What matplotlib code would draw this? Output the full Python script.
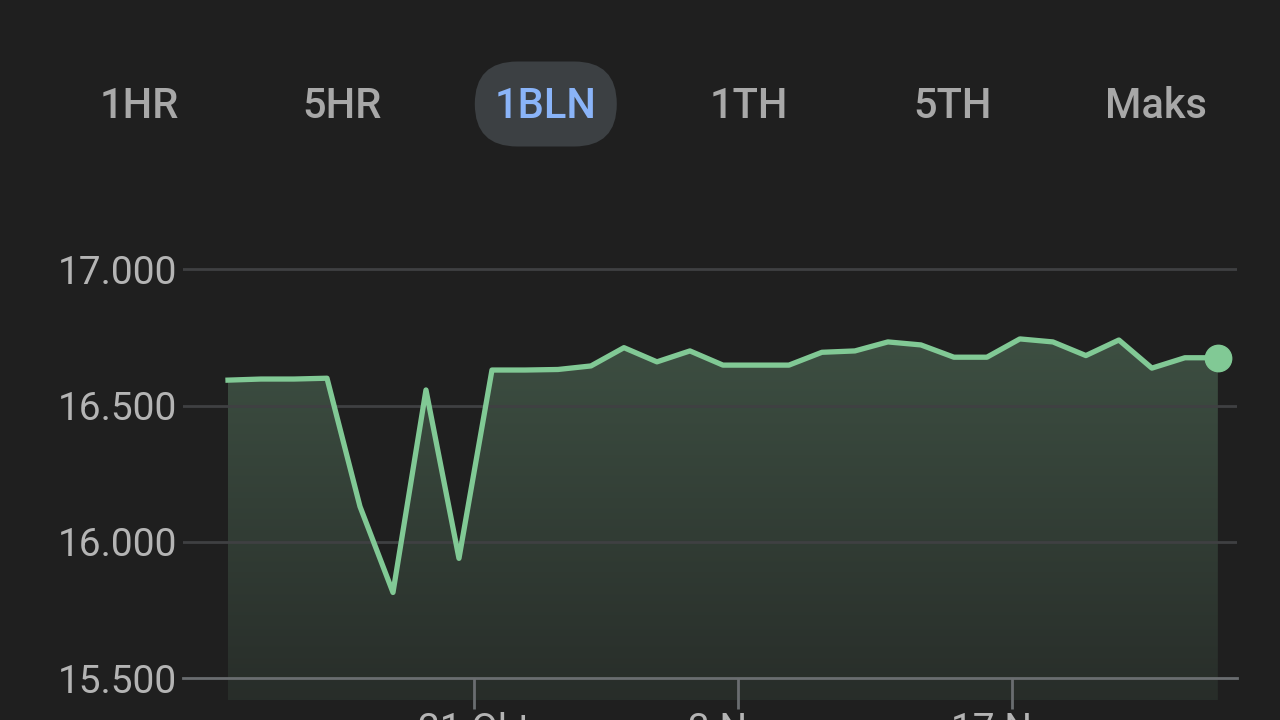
import matplotlib.pyplot as plt
import numpy as np
from matplotlib.patches import FancyBboxPatch
from matplotlib.colors import LinearSegmentedColormap

plt.rcParams['font.family'] = ['Roboto', 'DejaVu Sans']

# daily closing values over the month
values = [16593, 16597, 16597, 16600, 16130, 15815, 16557, 15940, 16630, 16630,
          16632, 16645, 16712, 16660, 16700, 16648, 16648, 16648, 16695, 16700,
          16733, 16722, 16677, 16677, 16744, 16733, 16683, 16740, 16637, 16675,
          16675]
days = np.arange(len(values))

y_ticks = [15500, 16000, 16500, 17000]
y_labels = ['15.500', '16.000', '16.500', '17.000']
x_ticks = [7.45, 15.45, 23.76]
x_labels = ['21 Okt', '3 Nov', '17 Nov']

ranges = ['1HR', '5HR', '1BLN', '1TH', '5TH', 'Maks']
selected = '1BLN'

bg = '#1f1f1f'
green = '#81c995'

fig = plt.figure(figsize=(12.8, 7.2), dpi=100, facecolor=bg)

# range selector row
for i, r in enumerate(ranges):
    cx = (139 + i * 203.4) / 1280
    cy = 1 - 104 / 720
    if r == selected:
        # pill in inches so the ends stay round
        pill = FancyBboxPatch((cx * 12.8 - 0.71, cy * 7.2 - 0.425), 1.42, 0.85,
                              boxstyle='round,pad=0,rounding_size=0.425',
                              transform=fig.dpi_scale_trans, facecolor='#3c4043',
                              edgecolor='none')
        fig.patches.append(pill)
        fig.text(cx, cy - 2.5 / 720, r, color='#8ab4f8', fontsize=30,
                 fontweight='medium', ha='center', va='center')
    else:
        fig.text(cx, cy - 2.5 / 720, r, color='#a8a8a8', fontsize=30,
                 fontweight='medium', ha='center', va='center')

ax = fig.add_axes([183 / 1280, 20 / 720, 1054 / 1280, 500 / 720])
ax.set_facecolor(bg)
ax.set_xlim(-1.364, 30.58)
ax.set_ylim(15421, 17253)

# gradient fill under the line
fill = ax.fill_between(days, values, 15300, color='none', lw=0)
cmap = LinearSegmentedColormap.from_list('g', ['#262a27', '#3d4f42'])
grad = np.linspace(0, 1, 256).reshape(-1, 1)
img = ax.imshow(grad, cmap=cmap, aspect='auto', origin='lower',
                extent=[days[0], days[-1], 15300, 16750], zorder=1)
img.set_clip_path(fill.get_paths()[0], transform=ax.transData)

for yv in y_ticks[1:]:
    ax.axhline(yv, color='#3f4042', lw=2, zorder=2)

ax.plot(days, values, color=green, lw=3.8, zorder=4, solid_joinstyle='round')
ax.plot(days[-1], values[-1], 'o', color=green, ms=19, zorder=5)

for s in ['top', 'right', 'left']:
    ax.spines[s].set_visible(False)
ax.spines['bottom'].set_position(('data', 15500))
ax.spines['bottom'].set_color('#6a6d70')
ax.spines['bottom'].set_linewidth(2)
ax.spines['bottom'].set_zorder(3)

ax.set_yticks(y_ticks, y_labels)
ax.tick_params(axis='y', length=0, pad=4, labelsize=28, labelcolor='#b4b4b4')
ax.set_xticks(x_ticks, x_labels)
ax.tick_params(axis='x', length=22, width=2, color='#6a6d70', pad=2,
               labelsize=28, labelcolor='#b4b4b4')

fig.savefig('out.png', facecolor=bg)
